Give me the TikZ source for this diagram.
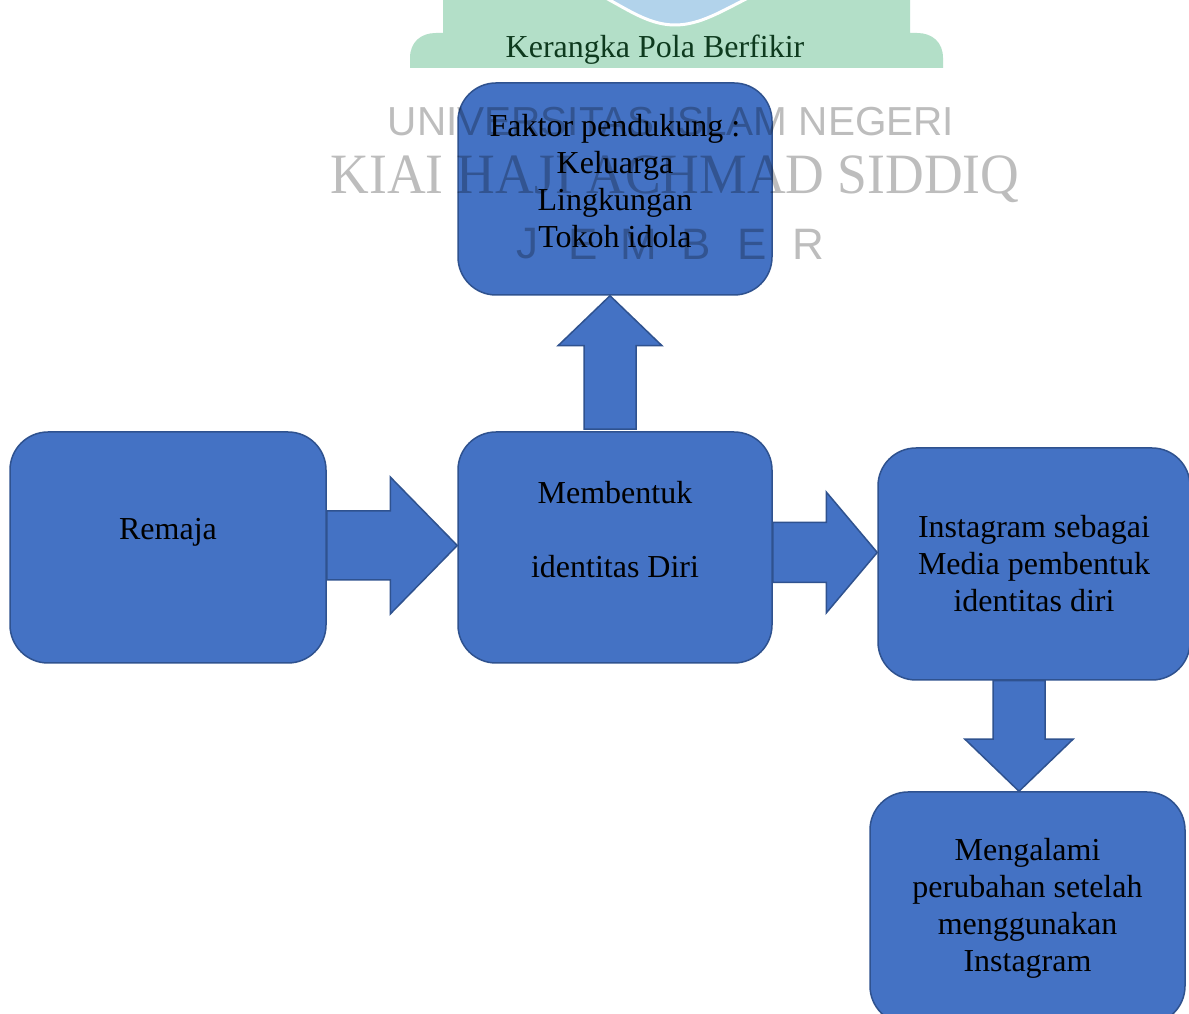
\documentclass[tikz,border=0pt]{standalone}
\usepackage{fontspec}
\setmainfont{Liberation Serif}
\newfontfamily\wmsans{Liberation Sans}
\usepackage{xcolor}
\usetikzlibrary{calc,positioning}
\definecolor{boxfill}{HTML}{4472C4}
\definecolor{boxline}{HTML}{2F528F}
\definecolor{wmgreen}{HTML}{B3DFC8}
\definecolor{wmblue}{HTML}{B2D3EB}
\definecolor{titlec}{HTML}{0E3A1E}
\tikzset{
  box/.style={draw=boxline,line width=1.5pt,fill=boxfill,rounded corners=38pt,align=center,inner sep=0pt,font=\fontsize{32}{37}\selectfont},
  blk/.style={draw=boxline,line width=1.5pt,fill=boxfill,line join=miter},
  wm/.style={text=black,text opacity=0.26,inner sep=0pt}
}
\newcommand{\blockarr}[5]{%
  \path ($(#2)!#5!(#1)$) coordinate (hb);
  \draw[blk] ($(#1)!#3!90:(#2)$) -- ($(hb)!#3!-90:(#1)$) -- ($(hb)!#4!-90:(#1)$) -- (#2)
    -- ($(hb)!#4!90:(#1)$) -- ($(hb)!#3!90:(#1)$) -- ($(#1)!#3!-90:(#2)$) -- cycle;}

\begin{document}
\begin{tikzpicture}[x=1pt,y=1pt]
\useasboundingbox (0,0) rectangle (1189,1014);
\fill[white] (0,0) rectangle (1189,1014);
\fill[wmgreen] (443,1014) -- (443,981) -- (436,981) .. controls (421,981) and (410,972) .. (410,956) -- (410,946)
  -- (943,946) -- (943,956) .. controls (943,972) and (932,981) .. (917,981) -- (910,981) -- (910,1014) -- cycle;
\fill[wmblue,draw=white,line width=3pt] (604,1017) .. controls (630,1003) and (650,989) .. (675,989)
  .. controls (700,989) and (722,1003) .. (750,1017) -- cycle;
\node[font=\fontsize{32}{37}\selectfont,text=titlec] (title) at (655,964) {Kerangka Pola Berfikir};

\node[box,minimum width=314pt,minimum height=212pt] (faktor) at (615,825) {Faktor pendukung :\\Keluarga\\Lingkungan\\Tokoh idola\\[-20pt]~};
\node[box,minimum width=316pt,minimum height=231pt] (remaja) at (168,466.5) {Remaja\\~};
\node[box,minimum width=314pt,minimum height=231pt] (memb) at (615,466.5) {Membentuk\\~\\identitas Diri\\~};
\node[box,minimum width=312pt,minimum height=232pt] (inst) at (1034,450) {Instagram sebagai\\Media pembentuk\\identitas diri};
\node[box,minimum width=315pt,minimum height=232pt] (meng) at (1027.5,106) {Mengalami\\perubahan setelah\\menggunakan\\Instagram};

\coordinate (a1s) at ($(remaja.east)+(0,2)$);
\coordinate (a1e) at (a1s -| memb.west);
\blockarr{a1s}{a1e}{34.5pt}{68.5pt}{67pt}
\coordinate (a2s) at ($(memb.east)+(0,-5)$);
\coordinate (a2e) at (a2s -| inst.west);
\blockarr{a2s}{a2e}{30pt}{60.5pt}{51pt}
\coordinate (u1) at ($(memb.north)+(-5,2)$);
\coordinate (u2) at (u1 |- faktor.south);
\blockarr{u1}{u2}{26pt}{52pt}{50pt}
\coordinate (d1) at ($(inst.south)+(-15,0)$);
\coordinate (d2) at (d1 |- meng.north);
\blockarr{d1}{d2}{26pt}{54pt}{52pt}

\node[wm,font=\wmsans\fontsize{40.5}{40.5}\selectfont] (wmuni) at (671,892) {UNIVERSITAS ISLAM NEGERI};
\node[wm,font=\fontsize{57}{57}\selectfont,xscale=0.94] (wmkiai) at (675,835) {KIAI HAJI ACHMAD SIDDIQ};
\foreach \c/\x in {J/527,E/583,M/639,B/696,E/752,R/808}
  \node[wm,font=\wmsans\fontsize{44}{44}\selectfont] (wm\x) at (\x,770) {\c};
\end{tikzpicture}
\end{document}
